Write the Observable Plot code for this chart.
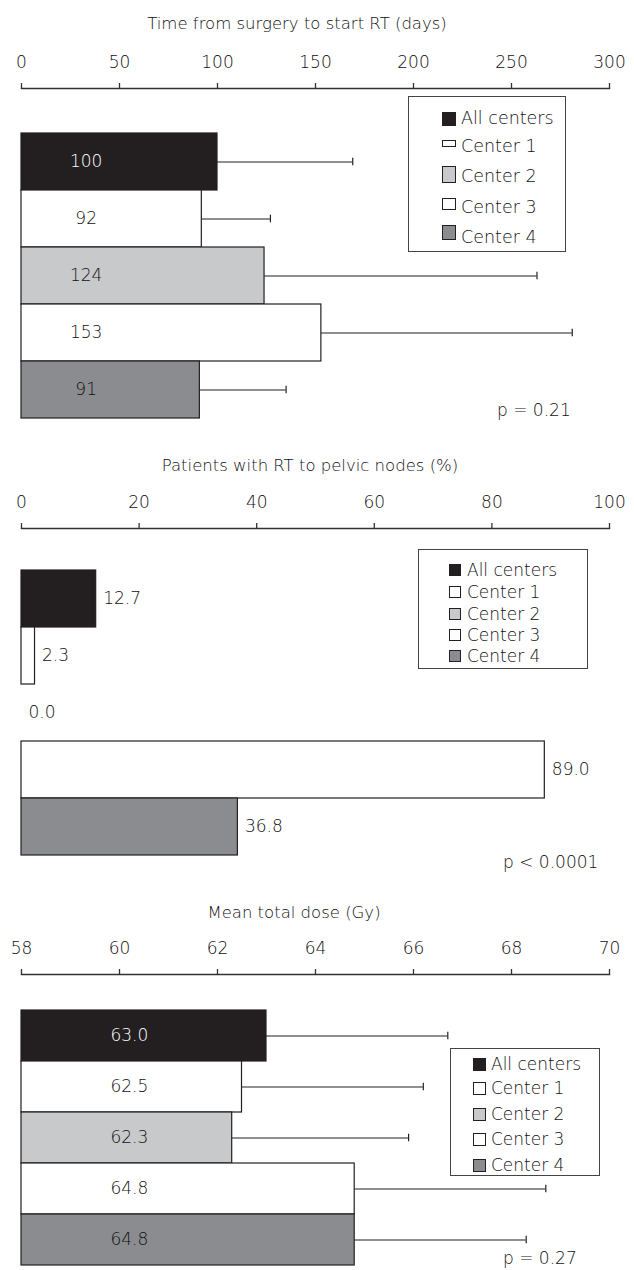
<!DOCTYPE html>
<html><head><meta charset="utf-8">
<script src="https://cdn.jsdelivr.net/npm/d3@7"></script>
<script src="https://cdn.jsdelivr.net/npm/@observablehq/plot@0.6"></script>
<style>
body{margin:0;background:#fff;}
#wrap{position:relative;width:634px;height:1270px;font-family:"DejaVu Sans",sans-serif;font-weight:200;color:#111;overflow:hidden;}
.panel{position:absolute;left:0;width:634px;}
.panel svg{display:block;font-weight:200;}
.title{position:absolute;font-size:16.5px;line-height:1;white-space:nowrap;transform:translate(-50%,-50%);}
.pval{position:absolute;font-size:17px;line-height:1;white-space:nowrap;transform:translateY(-50%);}
.legend{position:absolute;border:1.3px solid #444;box-sizing:border-box;background:#fff;}
.item{position:absolute;font-size:17px;line-height:1;white-space:nowrap;transform:translateY(-50%);}
.sw{position:absolute;border:1px solid #231f20;box-sizing:border-box;}
</style></head>
<body><div id="wrap"></div>
<script>
// ---- data ----
const centers = ["All centers", "Center 1", "Center 2", "Center 3", "Center 4"];
const fills = ["#231f20", "#ffffff", "#c8c9cb", "#ffffff", "#8b8c8f"];

const daysTitle = "Time from surgery to start RT (days)";
const daysMean = [100, 92, 124, 153, 91];
const daysSD = [69, 35, 139, 128, 44];
const daysTicks = [0, 50, 100, 150, 200, 250, 300];
const daysP = "p = 0.21";

const pelvicTitle = "Patients with RT to pelvic nodes (%)";
const pelvicPct = [12.7, 2.3, 0.0, 89.0, 36.8];
const pelvicTicks = [0, 20, 40, 60, 80, 100];
const pelvicP = "p < 0.0001";

const doseTitle = "Mean total dose (Gy)";
const doseMean = [63.0, 62.5, 62.3, 64.8, 64.8];
const doseSD = [3.7, 3.7, 3.6, 3.9, 3.5];
const doseTicks = [58, 60, 62, 64, 66, 68, 70];
const doseP = "p = 0.27";

const wrap = document.getElementById("wrap");
const INK = "#231f20";
const TXT = "#111";

function makePanel(cfg) {
  const div = document.createElement("div");
  div.className = "panel";
  div.style.top = cfg.top + "px";
  div.style.height = cfg.height + "px";
  wrap.appendChild(div);

  const data = centers.map((c, i) => ({
    center: c, value: cfg.values[i], sd: cfg.sds ? cfg.sds[i] : null
  }));
  const bw = (cfg.yRange[1] - cfg.yRange[0]) / centers.length;
  const capInset = (bw - 8) / 2;
  const x0 = cfg.ticks[0];

  const marks = [
    Plot.frame({anchor: "top", stroke: "#333", strokeWidth: 1.3}),
    Plot.axisX({anchor: "top", ticks: cfg.ticks, tickSize: 6, tickPadding: 15,
      tickFormat: d => String(d), fontSize: 17, label: null, stroke: "#333", strokeWidth: 1.3}),
    Plot.barX(data, {y: "center", x1: () => x0, x2: "value", fill: "center", stroke: INK, strokeWidth: 1.2})
  ];
  if (cfg.sds) {
    marks.push(
      Plot.ruleY(data, {y: "center", x1: "value", x2: d => d.value + d.sd, stroke: INK, strokeWidth: 1.2}),
      Plot.tickX(data, {y: "center", x: d => d.value + d.sd, stroke: INK, strokeWidth: 1.2,
        insetTop: capInset, insetBottom: capInset})
    );
  }
  if (cfg.labelInside) {
    marks.push(
      Plot.text(data.filter(d => d.center === "All centers"), {y: "center", x: () => cfg.labelX,
        text: d => cfg.fmt(d.value), fill: "#ffffff", fontSize: 17}),
      Plot.text(data.filter(d => d.center !== "All centers"), {y: "center", x: () => cfg.labelX,
        text: d => cfg.fmt(d.value), fill: TXT, fontSize: 17})
    );
  } else {
    marks.push(
      Plot.text(data, {y: "center", x: "value", dx: 7, textAnchor: "start",
        text: d => cfg.fmt(d.value), fill: TXT, fontSize: 17})
    );
  }

  const svg = Plot.plot({
    width: 634, height: cfg.height,
    marginTop: cfg.axisY, marginLeft: 21, marginRight: 25, marginBottom: 0,
    style: {fontFamily: "DejaVu Sans, sans-serif", color: TXT, background: "transparent"},
    x: {domain: [cfg.ticks[0], cfg.ticks[cfg.ticks.length - 1]]},
    y: {domain: centers, range: cfg.yRange, padding: 0, axis: null},
    color: {domain: centers, range: fills},
    marks
  });
  div.appendChild(svg);

  const t = document.createElement("div");
  t.className = "title"; t.textContent = cfg.title;
  t.style.left = cfg.titleX + "px"; t.style.top = cfg.titleY + "px";
  div.appendChild(t);

  const p = document.createElement("div");
  p.className = "pval"; p.textContent = cfg.p;
  p.style.left = cfg.pX + "px"; p.style.top = cfg.pY + "px";
  div.appendChild(p);

  const L = cfg.legend;
  const box = document.createElement("div");
  box.className = "legend";
  Object.assign(box.style, {left: L.x + "px", top: L.y + "px", width: L.w + "px", height: L.h + "px", fontSize: L.fs + "px"});
  centers.forEach((c, i) => {
    const sw = document.createElement("div");
    sw.className = "sw";
    const sh = L.swH[i];
    const sTop = L.swTop ? L.swTop[i] : L.rows[i] - sh / 2;
    Object.assign(sw.style, {left: L.swX + "px", top: sTop + "px", width: L.swW + "px", height: sh + "px", background: fills[i]});
    box.appendChild(sw);
    const tx = document.createElement("div");
    tx.className = "item"; tx.textContent = c;
    Object.assign(tx.style, {left: L.txX + "px", top: L.rows[i] + "px", fontSize: L.fs + "px"});
    box.appendChild(tx);
  });
  div.appendChild(box);
}

makePanel({
  top: 0, height: 440, axisY: 88, yRange: [132, 419],
  values: daysMean, sds: daysSD, ticks: daysTicks, title: daysTitle, titleX: 297, titleY: 24,
  labelInside: true, labelX: 33, fmt: d => String(d),
  p: daysP, pX: 497, pY: 410,
  legend: {x: 408, y: 96, w: 158, h: 156, fs: 17.5, swX: 33, swW: 14, txX: 52,
    rows: [22, 50, 80, 111, 141], swH: [14, 7, 17, 12, 15], swTop: [15, 43, 69, 101, 128]}
});

makePanel({
  top: 440, height: 440, axisY: 88, yRange: [130, 415],
  values: pelvicPct, sds: null, ticks: pelvicTicks, title: pelvicTitle, titleX: 310, titleY: 26,
  labelInside: false, fmt: d3.format(".1f"),
  p: pelvicP, pX: 503, pY: 422,
  legend: {x: 418, y: 109, w: 170, h: 120, fs: 17, swX: 30, swW: 12, txX: 48,
    rows: [20, 42, 64, 85, 106], swH: [12, 12, 12, 12, 12]}
});

makePanel({
  top: 880, height: 390, axisY: 94, yRange: [129, 386],
  values: doseMean, sds: doseSD, ticks: doseTicks, title: doseTitle, titleX: 294, titleY: 33,
  labelInside: true, labelX: 60.2, fmt: d3.format(".1f"),
  p: doseP, pX: 503, pY: 378,
  legend: {x: 450, y: 168, w: 150, h: 128, fs: 17, swX: 22, swW: 13, txX: 40,
    rows: [15, 39, 65, 90, 116], swH: [13, 13, 13, 13, 13]}
});
</script>
</body></html>
